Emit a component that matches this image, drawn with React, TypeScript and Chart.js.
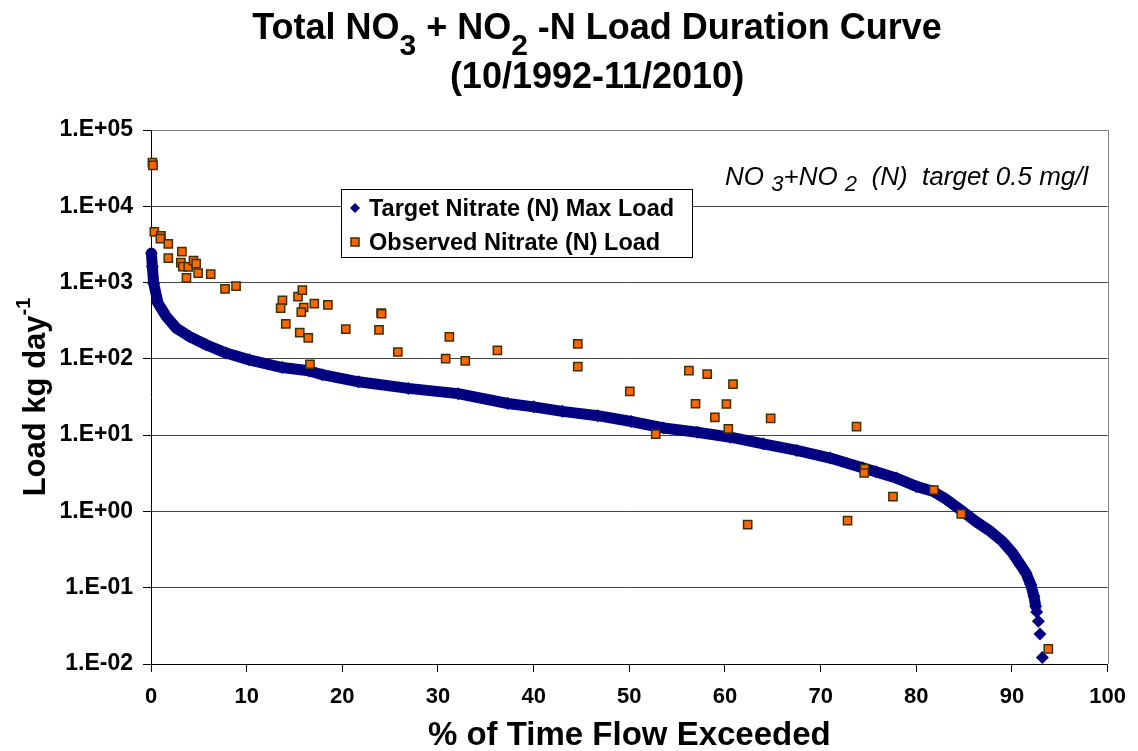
import React, { useEffect, useRef } from "react";
import { Chart, registerables } from "chart.js";

Chart.register(...registerables);

const FONT = '"Liberation Sans", Arial, Helvetica, sans-serif';

// ---- text ----
const TITLE_LINE2 = "(10/1992-11/2010)";
const X_TITLE = "% of Time Flow Exceeded";
const Y_TITLE = "Load kg day";
const Y_TITLE_SUP = "-1";
const TARGET_LABEL = "Target Nitrate (N) Max Load";
const OBSERVED_LABEL = "Observed Nitrate (N) Load";

// ---- axes ----
const xTickValues = [0, 10, 20, 30, 40, 50, 60, 70, 80, 90, 100];
const yTickValues = [0.01, 0.1, 1, 10, 100, 1000, 10000, 100000];

// ---- target load duration curve ----
const targetX = [
  0.04, 0.14, 0.28, 0.73, 1.6, 2.64, 4.03, 5.76, 7.85, 10.27, 13.74, 16.5, 17.9,
  21.7, 26.9, 32.1, 37.3, 40.0, 43.0, 46.7, 50.2, 53.6, 57.1, 60.56, 64.0, 67.5,
  71.0, 74.44, 75.8, 77.9, 80.0, 81.8, 83.1, 84.7, 86.2, 87.6, 89.0, 90.05, 90.77,
  91.46, 91.96, 92.3, 92.48, 92.58, 92.76, 92.93, 93.18,
];
const targetY = [
  2430, 1620, 982, 537, 359, 253, 196, 153, 119, 97, 77, 70, 62, 50, 41, 35, 26,
  23.5, 20.5, 18, 15.1, 12.4, 10.9, 9.4, 7.7, 6.3, 5.0, 3.7, 3.3, 2.74, 2.13, 1.82,
  1.45, 1.03, 0.74, 0.565, 0.405, 0.286, 0.21, 0.156, 0.11, 0.077, 0.057, 0.048,
  0.0364, 0.0248, 0.0122,
];

// ---- observed loads ----
const observedX = [
  0.15, 0.21, 0.35, 1.04, 0.98, 1.81, 1.81, 3.23, 3.12, 3.33, 3.89, 4.44, 4.72, 3.71,
  4.93, 6.24, 7.74, 8.89, 13.74, 13.55, 15.37, 15.82, 15.96, 15.71, 17.07, 18.49,
  14.09, 15.55, 16.44, 16.62, 20.36, 23.83, 24.06, 24.1, 25.8, 31.19, 30.8, 32.85,
  36.21, 44.61, 44.61, 50.05, 52.76, 56.23, 58.14, 60.84, 56.92, 60.15, 58.94, 60.35,
  64.77, 62.37, 73.75, 74.61, 74.55, 77.56, 81.83, 72.81, 84.7, 93.8,
];
const observedY = [
  37300, 34400, 4610, 4090, 3770, 3210, 2090, 2550, 1830, 1620, 1610, 1940, 1770, 1150,
  1330, 1290, 828, 897, 585, 462, 656, 798, 471, 411, 531, 511, 288, 221, 188, 85, 245,
  240, 397, 390, 123, 194, 101, 94, 129, 157, 79, 37.4, 10.3, 70, 63, 46.7, 25.8, 25.6,
  17.1, 12.1, 16.6, 0.67, 12.9, 3.63, 3.19, 1.56, 1.91, 0.757, 0.93, 0.0158,
];

const TARGET_COLOR = "#000080";
const OBS_FILL = "#FF6600";
const OBS_BORDER = "#3d3000";

type Run = { t: string; size: number; dy: number; weight?: string; style?: string };

function setFont(ctx: CanvasRenderingContext2D, r: Run) {
  ctx.font = `${r.style || "normal"} ${r.weight || "bold"} ${r.size}px ${FONT}`;
}
function runsWidth(ctx: CanvasRenderingContext2D, runs: Run[]) {
  let w = 0;
  for (const r of runs) {
    setFont(ctx, r);
    w += ctx.measureText(r.t).width;
  }
  return w;
}
function drawRuns(ctx: CanvasRenderingContext2D, runs: Run[], x: number, y: number) {
  ctx.textAlign = "left";
  ctx.textBaseline = "alphabetic";
  for (const r of runs) {
    setFont(ctx, r);
    ctx.fillText(r.t, x, y + r.dy);
    x += ctx.measureText(r.t).width;
  }
}

function fmtTick(v: number) {
  const e = Math.round(Math.log10(v));
  const s = e < 0 ? "-" : "+";
  return `1.E${s}${String(Math.abs(e)).padStart(2, "0")}`;
}

const decorPlugin = {
  id: "decor",
  afterDatasetsDraw(chart: any) {
    const ctx: CanvasRenderingContext2D = chart.ctx;
    const a = chart.chartArea;
    ctx.save();
    // plot-area frame (right)
    ctx.strokeStyle = "#808080";
    ctx.lineWidth = 1;
    ctx.beginPath();
    ctx.moveTo(Math.round(a.right) + 0.5, a.top);
    ctx.lineTo(Math.round(a.right) + 0.5, a.bottom);
    ctx.stroke();

    // legend box
    const lx = 341, ly = 189, lw = 351, lh = 68;
    ctx.fillStyle = "#fff";
    ctx.fillRect(lx, ly, lw, lh);
    ctx.strokeStyle = "#000";
    ctx.strokeRect(lx + 0.5, ly + 0.5, lw, lh);
    // diamond
    ctx.fillStyle = TARGET_COLOR;
    ctx.beginPath();
    ctx.moveTo(355, 203);
    ctx.lineTo(360, 208);
    ctx.lineTo(355, 213);
    ctx.lineTo(350, 208);
    ctx.closePath();
    ctx.fill();
    // square
    ctx.fillStyle = OBS_FILL;
    ctx.fillRect(351, 238, 8, 8);
    ctx.strokeStyle = OBS_BORDER;
    ctx.lineWidth = 1.5;
    ctx.strokeRect(351, 238, 8, 8);
    ctx.fillStyle = "#000";
    drawRuns(ctx, [{ t: TARGET_LABEL, size: 23.5, dy: 0 }], 369, 216);
    drawRuns(ctx, [{ t: OBSERVED_LABEL, size: 23.5, dy: 0 }], 369, 250);
    ctx.restore();
  },
  afterDraw(chart: any) {
    const ctx: CanvasRenderingContext2D = chart.ctx;
    const a = chart.chartArea;
    ctx.save();
    ctx.fillStyle = "#000";
    // title
    const l1: Run[] = [
      { t: "Total NO", size: 36, dy: 0 },
      { t: "3", size: 30, dy: 16 },
      { t: " + NO", size: 36, dy: 0 },
      { t: "2", size: 30, dy: 16 },
      { t: " -N Load Duration Curve", size: 36, dy: 0 },
    ];
    const w1 = runsWidth(ctx, l1);
    drawRuns(ctx, l1, 597 - w1 / 2, 39);
    const l2: Run[] = [{ t: TITLE_LINE2, size: 36, dy: 0 }];
    drawRuns(ctx, l2, 597 - runsWidth(ctx, l2) / 2, 88);

    // x title
    const xt: Run[] = [{ t: X_TITLE, size: 33, dy: 0 }];
    drawRuns(ctx, xt, (a.left + a.right) / 2 - runsWidth(ctx, xt) / 2, 745);

    // y title (rotated)
    const yt: Run[] = [
      { t: Y_TITLE, size: 31, dy: 0 },
      { t: Y_TITLE_SUP, size: 20, dy: -15 },
    ];
    ctx.save();
    ctx.translate(45, (a.top + a.bottom) / 2);
    ctx.rotate(-Math.PI / 2);
    drawRuns(ctx, yt, -runsWidth(ctx, yt) / 2, 0);
    ctx.restore();

    // annotation
    const an: Run[] = [
      { t: "NO ", size: 26, dy: 0, weight: "normal", style: "italic" },
      { t: "3", size: 22, dy: 6, weight: "normal", style: "italic" },
      { t: "+NO ", size: 26, dy: 0, weight: "normal", style: "italic" },
      { t: "2", size: 22, dy: 6, weight: "normal", style: "italic" },
      { t: "  (N)  target 0.5 mg/l", size: 26, dy: 0, weight: "normal", style: "italic" },
    ];
    drawRuns(ctx, an, 725, 185);
    ctx.restore();
  },
};

const CUT_INDEX = targetX.indexOf(92.48);

export default function App() {
  const ref = useRef<HTMLCanvasElement>(null);
  useEffect(() => {
    document.body.style.margin = "0";
    Chart.defaults.font.family = FONT;
    const chart = new Chart(ref.current as HTMLCanvasElement, {
      type: "scatter",
      data: {
        datasets: [
          {
            label: TARGET_LABEL,
            data: targetX.map((x, i) => ({ x, y: targetY[i] })),
            showLine: true,
            borderColor: TARGET_COLOR,
            borderWidth: 11,
            borderJoinStyle: "round",
            borderCapStyle: "round",
            tension: 0,
            pointStyle: "rectRot",
            pointRadius: 6.5,
            pointBackgroundColor: TARGET_COLOR,
            pointBorderColor: TARGET_COLOR,
            pointBorderWidth: 0,
            clip: false,
            order: 2,
            segment: {
              borderColor: (c: any) => (c.p0DataIndex >= CUT_INDEX ? "rgba(0,0,0,0)" : undefined),
            },
          } as any,
          {
            label: OBSERVED_LABEL,
            data: observedX.map((x, i) => ({ x, y: observedY[i] })),
            showLine: false,
            pointStyle: "rect",
            pointRadius: 5.8,
            pointBackgroundColor: OBS_FILL,
            pointBorderColor: OBS_BORDER,
            pointBorderWidth: 1.5,
            clip: false,
            order: 1,
          } as any,
        ],
      },
      options: {
        responsive: false,
        animation: false,
        devicePixelRatio: 1,
        layout: { padding: { top: 130, right: 26, left: 0, bottom: 0 } },
        plugins: {
          legend: { display: false },
          tooltip: { enabled: false },
          title: { display: false },
        },
        scales: {
          x: {
            type: "linear",
            min: 0,
            max: 100,
            afterFit: (s: any) => {
              s.height = 87;
            },
            afterBuildTicks: (s: any) => {
              s.ticks = xTickValues.map((v) => ({ value: v }));
            },
            ticks: {
              font: { size: 22, weight: "bold", family: FONT },
              color: "#000",
              padding: 12,
              maxRotation: 0,
              autoSkip: false,
            },
            grid: {
              drawOnChartArea: false,
              drawTicks: true,
              tickLength: 8,
              tickColor: "#000",
            },
            border: { display: true, color: "#000", width: 1 },
          },
          y: {
            type: "logarithmic",
            min: 0.01,
            max: 100000,
            afterFit: (s: any) => {
              s.width = 151;
            },
            afterBuildTicks: (s: any) => {
              s.ticks = yTickValues.map((v) => ({ value: v }));
            },
            ticks: {
              font: { size: 23, weight: "bold", family: FONT },
              color: "#000",
              padding: 10,
              autoSkip: false,
              callback: (v: any) => fmtTick(Number(v)),
            },
            grid: {
              drawTicks: true,
              tickLength: 8,
              tickColor: "#000",
              color: (c: any) =>
                c.tick && c.tick.value === 100000
                  ? "#808080"
                  : c.tick && c.tick.value === 0.01
                  ? "rgba(0,0,0,0)"
                  : "#444",
            },
            border: { display: true, color: "#000", width: 1 },
          },
        },
      } as any,
      plugins: [decorPlugin],
    });
    return () => chart.destroy();
  }, []);
  return (
    <div style={{ position: "relative", width: 1138, height: 751, background: "#fff" }}>
      <canvas ref={ref} width={1138} height={751} style={{ display: "block", width: 1138, height: 751 }} />
    </div>
  );
}
